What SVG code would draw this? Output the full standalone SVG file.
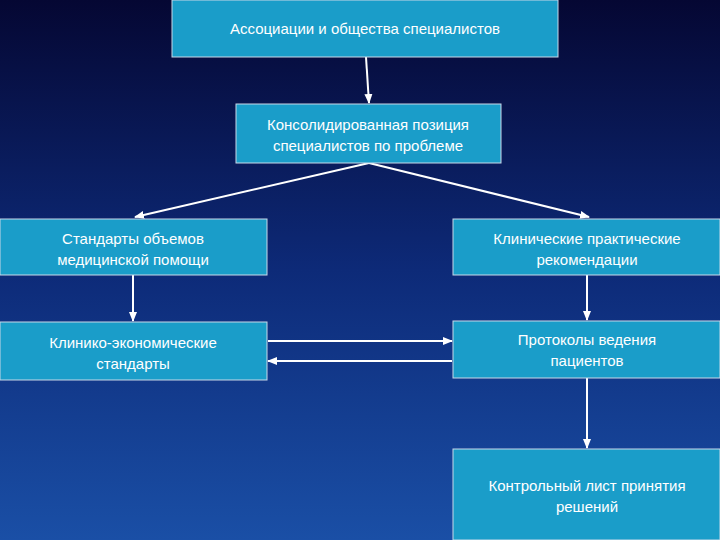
<svg xmlns="http://www.w3.org/2000/svg" width="720" height="540" viewBox="0 0 720 540">
<defs>
<linearGradient id="bg" x1="0" y1="0" x2="0" y2="1"><stop offset="0" stop-color="#050733"/><stop offset="0.5" stop-color="#0d2a78"/><stop offset="1" stop-color="#1a4fa6"/></linearGradient>
<marker id="a" viewBox="0 0 10 10" refX="9" refY="5" markerWidth="5" markerHeight="5" orient="auto"><path d="M0,1 L10,5 L0,9 z" fill="#fff"/></marker>
<style>.n rect{fill:#1a9dc9;stroke:#c8d8e8;stroke-width:1}.n text{font-family:"Liberation Sans",Arial,sans-serif;font-size:15px;fill:#fff;text-anchor:middle}#c line{stroke:#fff;stroke-width:2;marker-end:url(#a)}</style>
</defs>
<rect width="720" height="540" fill="url(#bg)"/>
<g id="c">
<line x1="366" y1="57" x2="369" y2="103"/>
<line x1="369" y1="163" x2="135" y2="217"/>
<line x1="369" y1="163" x2="589" y2="217"/>
<line x1="133" y1="275" x2="133" y2="321"/>
<line x1="587" y1="275" x2="587" y2="320"/>
<line x1="268" y1="341" x2="452" y2="341"/>
<line x1="452" y1="361" x2="268" y2="361"/>
<line x1="587" y1="378" x2="587" y2="448"/>
</g>
<g id="n1" class="n"><rect x="172" y="0" width="386" height="57"/><text x="365" y="34">Ассоциации и общества специалистов</text></g>
<g id="n2" class="n"><rect x="236" y="104" width="265" height="59"/><text x="368" y="130">Консолидированная позиция</text><text x="368" y="151">специалистов по проблеме</text></g>
<g id="n3" class="n"><rect x="0" y="219" width="267" height="56"/><text x="133" y="244">Стандарты объемов</text><text x="133" y="265">медицинской помощи</text></g>
<g id="n4" class="n"><rect x="453" y="219" width="267" height="56"/><text x="587" y="244">Клинические практические</text><text x="587" y="265">рекомендации</text></g>
<g id="n5" class="n"><rect x="0" y="322" width="267" height="58"/><text x="133" y="348">Клинико-экономические</text><text x="133" y="369">стандарты</text></g>
<g id="n6" class="n"><rect x="453" y="321" width="267" height="57"/><text x="587" y="345">Протоколы ведения</text><text x="587" y="366">пациентов</text></g>
<g id="n7" class="n"><rect x="453" y="449" width="267" height="91"/><text x="587" y="491">Контрольный лист принятия</text><text x="587" y="512">решений</text></g>
</svg>
